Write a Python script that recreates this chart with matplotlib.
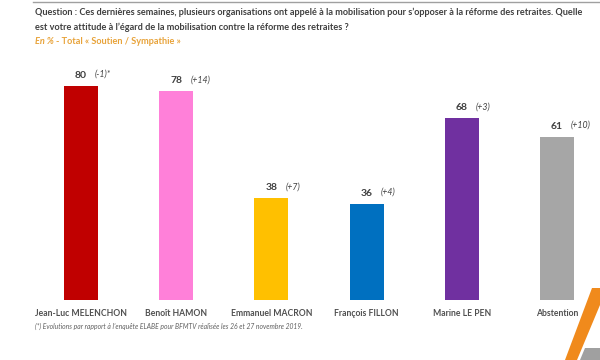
import matplotlib
matplotlib.use("Agg")
import matplotlib.pyplot as plt
from matplotlib.patches import Polygon

categories = ["Jean-Luc MELENCHON", "Benoît HAMON", "Emmanuel MACRON",
              "François FILLON", "Marine LE PEN", "Abstention"]
values = [80, 78, 38, 36, 68, 61]
changes = ["(-1)*", "(+14)", "(+7)", "(+4)", "(+3)", "(+10)"]
colors = ["#C00000", "#FF80D9", "#FFC000", "#0070C0", "#7030A0", "#A6A6A6"]

title1 = ("Question : Ces dernières semaines, plusieurs organisations ont appelé à la "
          "mobilisation pour s\u2019opposer à la réforme des retraites. Quelle")
title2 = "est votre attitude à l\u2019égard de la mobilisation contre la réforme des retraites ?"
footnote = "(*) Evolutions par rapport à l\u2019enquête ELABE pour BFMTV réalisée les 26 et 27 novembre 2019."

plt.rcParams['font.family'] = ['Lato', 'DejaVu Sans']

W, H = 600, 360
fig = plt.figure(figsize=(6, 3.6), dpi=100)
ax = fig.add_axes([0, 1 - 300 / H, 1, (300 - 40) / H])
x = list(range(len(categories)))
ax.bar(x, values, width=0.357, color=colors)
ax.set_xlim(-81 / 95.2, (600 - 81) / 95.2)
ax.set_ylim(0, 260 / 2.675)
ax.axis('off')

for i, (v, c) in enumerate(zip(values, changes)):
    ax.annotate(str(v), (i, v), xytext=(0, 6), textcoords='offset pixels',
                ha='center', va='bottom', fontsize=7.5, fontweight='bold', color='#404040')
    ax.annotate(c, (i, v), xytext=(14, 7), textcoords='offset pixels',
                ha='left', va='bottom', fontsize=6.3, style='italic', color='#404040')
    ax.annotate(categories[i], (i, 0), xytext=(0, -13), textcoords='offset pixels',
                ha='center', va='center', fontsize=6.2, fontweight='bold', color='#505050')

def fx(px):
    return px / W

def fy(py):
    return 1 - py / H

fig.add_artist(plt.Line2D([fx(33), fx(600)], [fy(2), fy(2)], color='#A0A0A0', lw=1))
fig.text(fx(35), fy(12), title1, fontsize=6.6, fontweight='bold', color='#404040', va='center')
fig.text(fx(35), fy(27), title2, fontsize=6.6, fontweight='bold', color='#404040', va='center')
fig.text(fx(35), fy(42), "En %", fontsize=6.6, style='italic', fontweight='bold',
         color='#E8A33A', va='center')
fig.text(fx(56), fy(42), "- Total « Soutien / Sympathie »", fontsize=6.6, fontweight='bold',
         color='#E8A33A', va='center')
fig.text(fx(35), fy(326), footnote, fontsize=4.9, style='italic', color='#606060', va='center')

# decorative shape bottom right
fig.add_artist(Polygon([(fx(592), fy(288)), (fx(600), fy(288)), (fx(600), fy(305)),
                        (fx(577), fy(360)), (fx(565), fy(360))],
                       closed=True, transform=fig.transFigure, color='#F08A1C', lw=0))
fig.add_artist(Polygon([(fx(585), fy(348)), (fx(600), fy(348)), (fx(600), fy(360)),
                        (fx(580), fy(360))],
                       closed=True, transform=fig.transFigure, color='#A0A0A0', lw=0))

fig.savefig("out.png", dpi=100)
